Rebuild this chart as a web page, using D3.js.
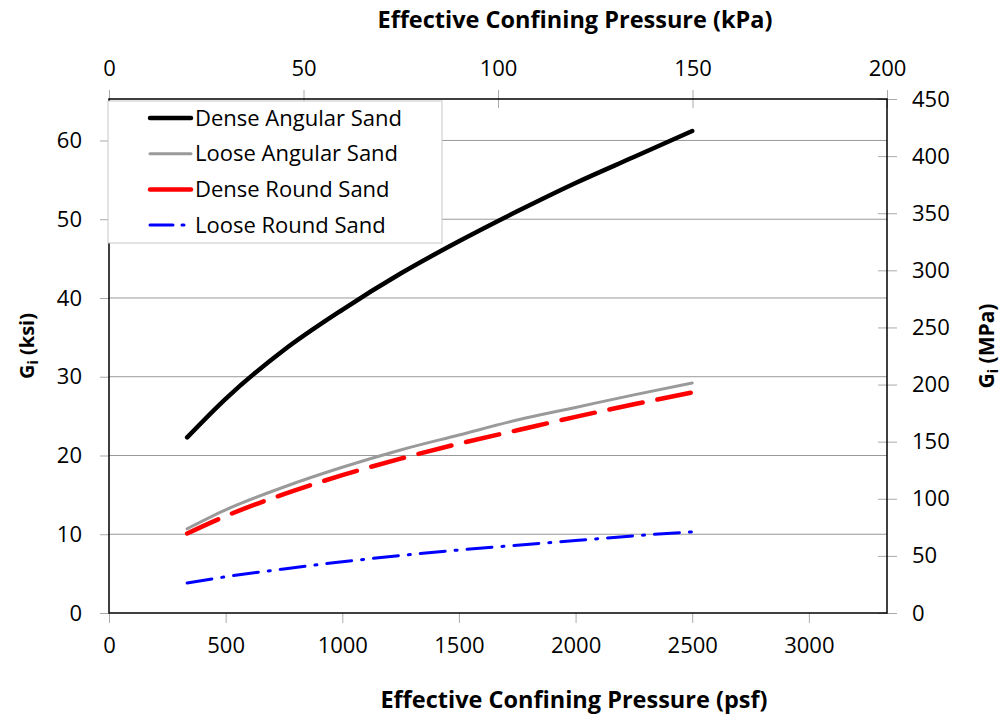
<!DOCTYPE html>
<html>
<head>
<meta charset="utf-8">
<script src="https://cdn.jsdelivr.net/npm/d3@7"></script>
<style>
  body { margin: 0; background: #fff; }
  text { font-family: "Open Sans", Lato, sans-serif; fill: #000; }
  .title { font-weight: bold; font-size: 23.5px; }
  .tick text { font-size: 22px; }
</style>
</head>
<body>
<div id="chart"></div>
<script>
// pressure in psf, Gi in ksi
const pressure = [335, 500, 750, 1000, 1250, 1500, 1750, 2000, 2250, 2500];
const denseAngular = [22.3, 27.2, 33.4, 38.5, 43.1, 47.2, 51.0, 54.6, 57.9, 61.2];
const looseAngular = [10.7, 13.1, 16.0, 18.5, 20.7, 22.6, 24.5, 26.1, 27.7, 29.2];
const denseRound = [10.1, 12.3, 15.1, 17.5, 19.6, 21.5, 23.2, 24.9, 26.5, 28.0];
const looseRound = [3.8, 4.6, 5.6, 6.5, 7.3, 8.0, 8.6, 9.2, 9.8, 10.3];

const seriesNames = ["Dense Angular Sand", "Loose Angular Sand", "Dense Round Sand", "Loose Round Sand"];
const psfTicks = [0, 500, 1000, 1500, 2000, 2500, 3000];
const kpaTicks = [0, 50, 100, 150, 200];
const ksiTicks = [0, 10, 20, 30, 40, 50, 60];
const mpaTicks = [0, 50, 100, 150, 200, 250, 300, 350, 400, 450];

const width = 1004, height = 719;
const margin = {top: 99, right: 117, bottom: 106, left: 109};
const x0 = margin.left, x1 = width - margin.right, y0 = height - margin.bottom, y1 = margin.top;

const svg = d3.select("#chart").append("svg")
    .attr("width", width)
    .attr("height", height);

const x = d3.scaleLinear().domain([0, 3335]).range([x0, x1]);
const xTop = d3.scaleLinear().domain([0, 200]).range([x0, x1]);
const y = d3.scaleLinear().domain([0, 450 / 6.895]).range([y0, y1]);
const yRight = d3.scaleLinear().domain([0, 450]).range([y0, y1]);

// horizontal gridlines
svg.append("g").selectAll("line")
    .data(ksiTicks.filter(d => d > 0))
    .join("line")
    .attr("x1", x0).attr("x2", x1)
    .attr("y1", d => y(d)).attr("y2", d => y(d))
    .attr("stroke", "#999").attr("stroke-width", 1);

function styleAxis(g) {
    g.select(".domain").remove();
    g.selectAll(".tick line").attr("stroke", "#aaa");
    g.selectAll(".tick text").attr("fill", "#000");
}

svg.append("g")
    .attr("transform", `translate(0,${y0})`)
    .call(d3.axisBottom(x).tickValues(psfTicks).tickSize(10).tickPadding(14).tickFormat(d3.format("d")))
    .call(styleAxis);

svg.append("g")
    .attr("transform", `translate(0,${y1})`)
    .call(d3.axisTop(xTop).tickValues(kpaTicks).tickSize(9).tickPadding(14).tickFormat(d3.format("d")))
    .call(styleAxis)
    .call(g => g.selectAll(".tick line").attr("y2", 9).attr("y1", -9));

svg.append("g")
    .attr("transform", `translate(${x0},0)`)
    .call(d3.axisLeft(y).tickValues(ksiTicks).tickSize(9).tickPadding(18).tickFormat(d3.format("d")))
    .call(styleAxis);

svg.append("g")
    .attr("transform", `translate(${x1},0)`)
    .call(d3.axisRight(yRight).tickValues(mpaTicks).tickSize(10).tickPadding(15).tickFormat(d3.format("d")))
    .call(styleAxis)
    .call(g => g.selectAll(".tick line").attr("x1", -9).attr("x2", 10));

// plot frame
svg.append("rect")
    .attr("x", x0).attr("y", y1)
    .attr("width", x1 - x0).attr("height", y0 - y1)
    .attr("fill", "none").attr("stroke", "#000").attr("stroke-width", 1.5);

const styles = [
    {color: "#000", width: 4.5, dash: null},
    {color: "#9a9a9a", width: 3, dash: null},
    {color: "#ff0000", width: 4.5, dash: "34,15"},
    {color: "#0000ff", width: 3, dash: "25,10,2,10"}
];
const seriesValues = [denseAngular, looseAngular, denseRound, looseRound];

const line = d3.line()
    .x(d => x(d[0]))
    .y(d => y(d[1]))
    .curve(d3.curveMonotoneX);

svg.append("g").selectAll("path")
    .data(seriesValues)
    .join("path")
    .attr("d", vals => line(pressure.map((p, i) => [p, vals[i]])))
    .attr("fill", "none")
    .attr("stroke", (d, i) => styles[i].color)
    .attr("stroke-width", (d, i) => styles[i].width)
    .attr("stroke-dasharray", (d, i) => styles[i].dash)
    .attr("stroke-linecap", "round");

// legend
const legend = svg.append("g");
legend.append("rect")
    .attr("x", 108).attr("y", 101)
    .attr("width", 334).attr("height", 142)
    .attr("fill", "#fff").attr("stroke", "#c8c8c8");

const rows = legend.selectAll("g.row")
    .data(seriesNames)
    .join("g")
    .attr("class", "row")
    .attr("transform", (d, i) => `translate(0,${118 + i * 35.7})`);

rows.append("line")
    .attr("x1", 150).attr("x2", 191)
    .attr("stroke", (d, i) => styles[i].color)
    .attr("stroke-width", (d, i) => styles[i].width)
    .attr("stroke-dasharray", (d, i) => i === 3 ? "23,9,2,10" : null)
    .attr("stroke-linecap", "round");

rows.append("text")
    .attr("x", 195).attr("dy", "0.35em")
    .attr("font-size", 22)
    .text(d => d);

// axis titles
svg.append("text").attr("class", "title")
    .attr("x", 575).attr("y", 28).attr("text-anchor", "middle")
    .text("Effective Confining Pressure (kPa)");

svg.append("text").attr("class", "title")
    .attr("x", 574).attr("y", 708).attr("text-anchor", "middle")
    .text("Effective Confining Pressure (psf)");

function gLabel(tx, ty, unit, size) {
    const t = svg.append("text").attr("class", "title")
        .attr("transform", `translate(${tx},${ty}) rotate(-90)`)
        .attr("text-anchor", "middle")
        .style("font-size", size + "px");
    t.append("tspan").text("G");
    t.append("tspan").style("font-size", "14px").attr("dy", 4).text("i");
    t.append("tspan").attr("dy", -4).text(" (" + unit + ")");
}
gLabel(34, 346, "ksi", 20);
gLabel(994, 346, "MPa", 21);
</script>
</body>
</html>
